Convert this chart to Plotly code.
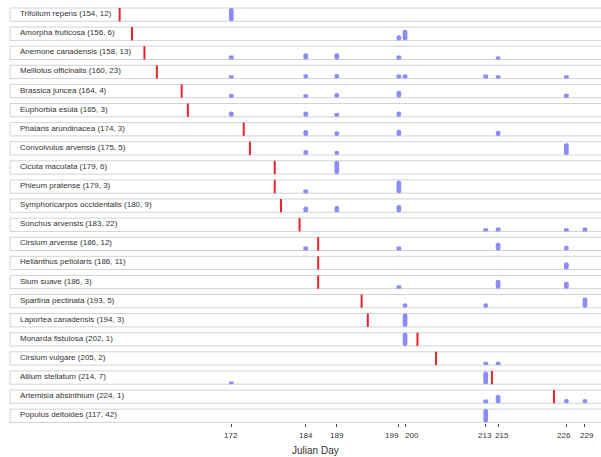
import plotly.graph_objects as go

# Species, first-flowering Julian day and number of records
species = [
    "Trifolium repens", "Amorpha fruticosa", "Anemone canadensis",
    "Melilotus officinalis", "Brassica juncea", "Euphorbia esula",
    "Phalaris arundinacea", "Convolvulus arvensis", "Cicuta maculata",
    "Phleum pratense", "Symphoricarpos occidentalis", "Sonchus arvensis",
    "Cirsium arvense", "Helianthus petiolaris", "Sium suave",
    "Spartina pectinata", "Laportea canadensis", "Monarda fistulosa",
    "Cirsium vulgare", "Allium stellatum", "Artemisia absinthium",
    "Populus deltoides",
]
first_day = [154, 156, 158, 160, 164, 165, 174, 175, 179, 179, 180, 183,
             186, 186, 186, 193, 194, 202, 205, 214, 224, 117]
n_records = [12, 6, 13, 23, 4, 3, 3, 5, 6, 3, 9, 22,
             12, 11, 3, 5, 3, 1, 2, 7, 1, 42]

# Survey days with visits per species and their relative frequency (0-1)
visit_days = [
    [172],
    [199, 200],
    [172, 184, 189, 199, 215],
    [172, 184, 189, 199, 200, 213, 215, 226],
    [172, 184, 189, 199, 226],
    [172, 184, 189, 199],
    [184, 189, 199, 215],
    [184, 189, 226],
    [189],
    [184, 199],
    [184, 189, 199],
    [213, 215, 226, 229],
    [184, 199, 215, 226],
    [226],
    [199, 215, 226],
    [200, 213, 229],
    [200],
    [200],
    [213, 215],
    [172, 213],
    [213, 215, 226, 229],
    [213],
]
visit_freq = [
    [1.0],
    [0.38, 0.8],
    [0.3, 0.47, 0.47, 0.3, 0.22],
    [0.26, 0.32, 0.35, 0.3, 0.3, 0.3, 0.26, 0.26],
    [0.28, 0.26, 0.35, 0.53, 0.3],
    [0.4, 0.4, 0.28, 0.4],
    [0.45, 0.35, 0.47, 0.38],
    [0.38, 0.32, 0.88],
    [1.0],
    [0.28, 0.95],
    [0.43, 0.47, 0.55],
    [0.24, 0.3, 0.24, 0.3],
    [0.3, 0.3, 0.58, 0.35],
    [0.55],
    [0.26, 0.68, 0.53],
    [0.35, 0.35, 0.77],
    [1.0],
    [1.0],
    [0.26, 0.26],
    [0.2, 0.95],
    [0.28, 0.62, 0.32, 0.32],
    [1.0],
]
tick_days = [172, 184, 189, 199, 200, 213, 215, 226, 229]

# Layout geometry (pixels)
W, H = 601, 457
PLOT_H = 423           # height of plotting area (bottom margin below)
ROW_TOP0 = 8.0         # top of first strip
ROW_PITCH = 19.1
ROW_H = 13.3
BOX_LEFT = 10
PX_PER_DAY = 6.205
DAY_AT_PX = (172, 231.3)

x_lo = DAY_AT_PX[0] - DAY_AT_PX[1] / PX_PER_DAY
x_hi = DAY_AT_PX[0] + (W - DAY_AT_PX[1]) / PX_PER_DAY

FONT = "Liberation Sans, Arial, sans-serif"
BAR_COLOR = "#8c8cf8"
LINE_COLOR = "#e8222a"

fig = go.Figure()
shapes = []
annotations = []

bar_x, bar_y, bar_base = [], [], []
red_x, red_y = [], []

for i, name in enumerate(species):
    top_px = ROW_TOP0 + ROW_PITCH * i
    y_top = PLOT_H - top_px
    y_bot = y_top - ROW_H

    # strip outline
    shapes.append(dict(
        type="rect", xref="paper", yref="y",
        x0=BOX_LEFT / W, x1=1.05, y0=y_bot, y1=y_top,
        line=dict(color="#d2d2d2", width=1), fillcolor="white", layer="below",
    ))
    # strip label
    annotations.append(dict(
        xref="paper", yref="y", x=(BOX_LEFT + 8) / W, y=y_top - 5.6,
        xanchor="left", yanchor="middle", showarrow=False,
        text=f"{name} ({first_day[i]}, {n_records[i]})",
        font=dict(family=FONT, size=8, color="#333333"),
    ))
    # visit bars
    for d, f in zip(visit_days[i], visit_freq[i]):
        bar_x.append(d)
        bar_y.append(f * ROW_H)
        bar_base.append(y_bot)
    # first-flowering marker
    red_x += [first_day[i], first_day[i], None]
    red_y += [y_bot, y_top, None]

fig.add_trace(go.Bar(
    x=bar_x, y=bar_y, base=bar_base, width=0.76,
    marker=dict(color=BAR_COLOR, line=dict(width=0)),
    hoverinfo="skip", showlegend=False,
))
fig.add_trace(go.Scatter(
    x=red_x, y=red_y, mode="lines",
    line=dict(color=LINE_COLOR, width=2),
    hoverinfo="skip", showlegend=False,
))

# tick labels, nudged apart where ticks sit close together
tick_anchor = {199: "right", 200: "left"}
tick_shift = {199: 2, 200: -2, 213: -1, 215: 4, 226: -2, 229: 2}
for d in tick_days:
    annotations.append(dict(
        xref="x", yref="paper", x=d, y=0, yanchor="middle",
        xanchor=tick_anchor.get(d, "center"), xshift=tick_shift.get(d, 0),
        yshift=-12, showarrow=False, text=str(d),
        font=dict(family=FONT, size=8, color="#333333"),
    ))
annotations.append(dict(
    xref="paper", yref="paper", x=315.3 / W, y=0, yanchor="middle",
    xanchor="center", yshift=-27, showarrow=False, text="Julian Day",
    font=dict(family=FONT, size=10, color="#333333"),
))

fig.update_layout(
    width=W, height=H,
    margin=dict(l=0, r=0, t=0, b=H - PLOT_H, pad=0),
    paper_bgcolor="white", plot_bgcolor="white",
    barmode="overlay", barcornerradius="50%",
    shapes=shapes, annotations=annotations,
    xaxis=dict(
        range=[x_lo, x_hi], tickvals=tick_days, showticklabels=False,
        ticks="outside", ticklen=3, tickwidth=1, tickcolor="#444444",
        showgrid=False, zeroline=False, showline=False, fixedrange=True,
    ),
    yaxis=dict(range=[0, PLOT_H], visible=False, fixedrange=True),
)

fig.write_html("out.html")
